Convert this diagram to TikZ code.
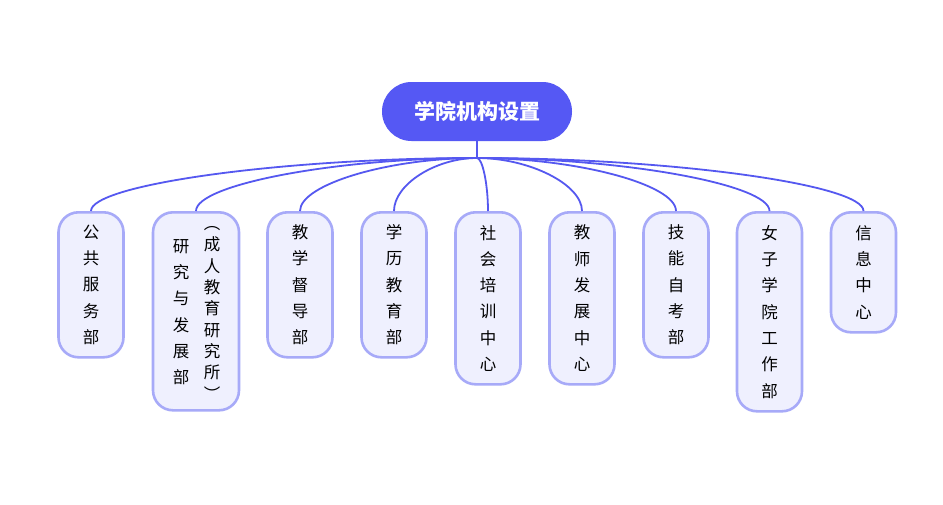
\documentclass[tikz,border=0pt]{standalone}
\usepackage{fontspec}
\newfontfamily\cjk{Noto Sans CJK SC}
\usetikzlibrary{calc}
\definecolor{rootblue}{HTML}{5558F4}
\definecolor{boxline}{HTML}{A7AAF8}
\definecolor{boxfill}{HTML}{EFF0FE}
\definecolor{linkblue}{HTML}{5558F0}

\begin{document}
\begin{tikzpicture}[x=1pt,y=-1pt]

\tikzset{top/.style = {shape=rectangle, rounded corners=29.5pt, fill=rootblue, text=white, minimum width=190pt, minimum height=59pt, font=\cjk\bfseries\fontsize{21}{24}\selectfont}}
\tikzset{dept/.style = {shape=rectangle, draw=boxline, fill=boxfill, line width=2.6pt, rounded corners=20pt, minimum width=65pt, minimum height=#1, anchor=north, align=center, text=black, font=\cjk\fontsize{16.5}{26.3}\selectfont, inner sep=0pt}}
\tikzset{column/.style = {align=center, text=black, inner sep=0pt, font=\cjk\fontsize{16.5}{#1}\selectfont}}
\tikzset{edge/.style = {draw=linkblue, line width=1.8pt, to path={.. controls ($(\tikztostart -| \tikztotarget)!0.5!(\tikztostart)$) and ($(\tikztotarget)!0.5!(\tikztotarget |- \tikztostart)$) .. (\tikztotarget)}}}

\fill[white] (0,0) rectangle (943,504);
\useasboundingbox (0,0) rectangle (943,504);

%verticies
\node[top] (0) at (477,111.5) {学院机构设置};
\coordinate (j) at (477,158);
\node[dept=145pt] (1) at (91,211) {公\\共\\服\\务\\部};
\node[dept=198pt, minimum width=86pt] (2) at (196,211) {};
\node[column=26.3pt] (2a) at ($(2.center)+(-15,1)$) {研\\究\\与\\发\\展\\部};
\node[column=21.3pt] (2b) at ($(2.center)+(16,2)$) {︵\\成\\人\\教\\育\\研\\究\\所\\︶};
\node[dept=145pt] (3) at (300,211) {教\\学\\督\\导\\部};
\node[dept=145pt] (4) at (394,211) {学\\历\\教\\育\\部};
\node[dept=172pt] (5) at (488,211) {社\\会\\培\\训\\中\\心};
\node[dept=172pt] (6) at (582,211) {教\\师\\发\\展\\中\\心};
\node[dept=145pt] (7) at (676,211) {技\\能\\自\\考\\部};
\node[dept=199pt] (8) at (769.5,211) {女\\子\\学\\院\\工\\作\\部};
\node[dept=120pt] (9) at (863.5,211) {信\\息\\中\\心};

%edges
\draw[edge] (0) -- (j);
\draw[edge] (j) to (1.north);
\draw[edge] (j) to (2.north);
\draw[edge] (j) to (3.north);
\draw[edge] (j) to (4.north);
\draw[edge] (j) to (5.north);
\draw[edge] (j) to (6.north);
\draw[edge] (j) to (7.north);
\draw[edge] (j) to (8.north);
\draw[edge] (j) to (9.north);

\end{tikzpicture}
\end{document}
